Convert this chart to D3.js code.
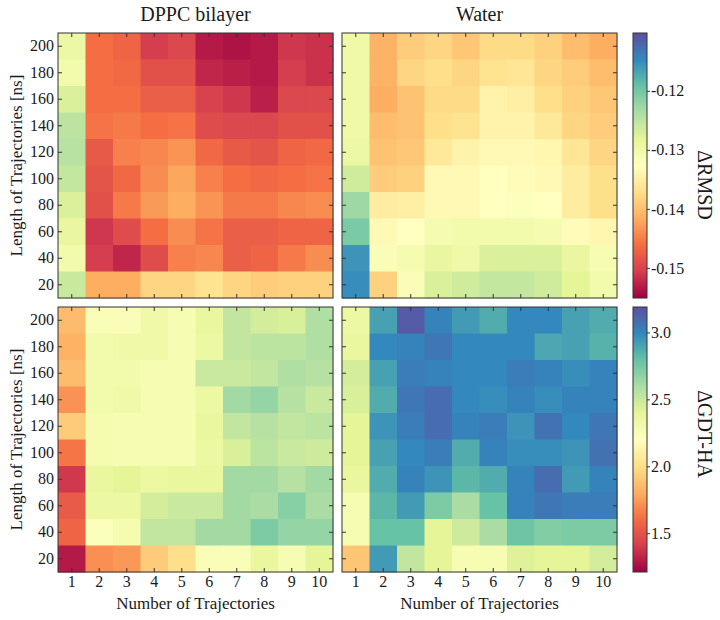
<!DOCTYPE html>
<html><head><meta charset="utf-8">
<script src="https://cdn.jsdelivr.net/npm/d3@7"></script>
</head>
<body style="margin:0"><svg id="c" width="720" height="620"></svg>
<script>
const nTraj = [1,2,3,4,5,6,7,8,9,10];
const lenTraj = [200,180,160,140,120,100,80,60,40,20];
const titles = ["DPPC bilayer","Water"];
const cbLabels = ["\u0394RMSD","\u0394GDT-HA"];
const rmsdTicks = [-0.15,-0.14,-0.13,-0.12];
const gdtTicks = [1.5,2.0,2.5,3.0];
const rmsdRange = [-0.1551,-0.1102];
const gdtRange = [1.21,3.19];

// rows ordered 200 -> 20, columns 1 -> 10
const dppcRmsd = [
 [-0.1295,-0.1461,-0.1470,-0.1506,-0.1497,-0.1533,-0.1538,-0.1533,-0.1511,-0.1515],
 [-0.1304,-0.1461,-0.1466,-0.1488,-0.1488,-0.1524,-0.1529,-0.1533,-0.1506,-0.1515],
 [-0.1273,-0.1461,-0.1461,-0.1475,-0.1475,-0.1502,-0.1511,-0.1529,-0.1497,-0.1497],
 [-0.1250,-0.1457,-0.1452,-0.1461,-0.1457,-0.1493,-0.1497,-0.1497,-0.1488,-0.1488],
 [-0.1246,-0.1479,-0.1448,-0.1443,-0.1434,-0.1466,-0.1479,-0.1484,-0.1470,-0.1466],
 [-0.1255,-0.1484,-0.1466,-0.1439,-0.1421,-0.1448,-0.1461,-0.1466,-0.1461,-0.1457],
 [-0.1273,-0.1488,-0.1452,-0.1430,-0.1416,-0.1434,-0.1452,-0.1452,-0.1443,-0.1439],
 [-0.1291,-0.1511,-0.1493,-0.1461,-0.1439,-0.1457,-0.1475,-0.1475,-0.1470,-0.1470],
 [-0.1304,-0.1506,-0.1524,-0.1493,-0.1448,-0.1443,-0.1475,-0.1470,-0.1452,-0.1439],
 [-0.1259,-0.1416,-0.1416,-0.1380,-0.1380,-0.1367,-0.1380,-0.1389,-0.1385,-0.1385]
];
const waterRmsd = [
 [-0.1300,-0.1412,-0.1389,-0.1380,-0.1394,-0.1376,-0.1376,-0.1385,-0.1403,-0.1416],
 [-0.1300,-0.1412,-0.1380,-0.1371,-0.1380,-0.1367,-0.1362,-0.1380,-0.1389,-0.1403],
 [-0.1300,-0.1416,-0.1398,-0.1376,-0.1376,-0.1344,-0.1349,-0.1371,-0.1385,-0.1394],
 [-0.1300,-0.1403,-0.1398,-0.1371,-0.1367,-0.1344,-0.1344,-0.1358,-0.1380,-0.1389],
 [-0.1295,-0.1398,-0.1394,-0.1358,-0.1344,-0.1335,-0.1335,-0.1340,-0.1362,-0.1380],
 [-0.1264,-0.1389,-0.1385,-0.1335,-0.1335,-0.1326,-0.1331,-0.1335,-0.1353,-0.1371],
 [-0.1228,-0.1353,-0.1349,-0.1335,-0.1335,-0.1326,-0.1322,-0.1326,-0.1353,-0.1371],
 [-0.1205,-0.1335,-0.1326,-0.1309,-0.1304,-0.1304,-0.1304,-0.1309,-0.1331,-0.1340],
 [-0.1156,-0.1318,-0.1309,-0.1291,-0.1300,-0.1273,-0.1273,-0.1273,-0.1291,-0.1313],
 [-0.1151,-0.1385,-0.1318,-0.1273,-0.1264,-0.1255,-0.1255,-0.1264,-0.1282,-0.1304]
];
const dppcGdt = [
 [1.86,2.24,2.24,2.32,2.26,2.36,2.52,2.46,2.44,2.58],
 [1.82,2.30,2.32,2.32,2.26,2.34,2.52,2.54,2.54,2.58],
 [1.86,2.30,2.30,2.26,2.26,2.50,2.50,2.52,2.58,2.56],
 [1.72,2.30,2.32,2.26,2.26,2.34,2.62,2.66,2.56,2.50],
 [1.92,2.28,2.26,2.26,2.26,2.36,2.52,2.56,2.52,2.54],
 [1.63,2.28,2.26,2.26,2.26,2.34,2.44,2.54,2.50,2.48],
 [1.39,2.36,2.40,2.34,2.36,2.36,2.62,2.62,2.56,2.62],
 [1.53,2.34,2.34,2.46,2.50,2.50,2.62,2.60,2.70,2.60],
 [1.57,2.22,2.28,2.52,2.52,2.62,2.62,2.73,2.66,2.66],
 [1.29,1.71,1.74,1.92,2.00,2.24,2.24,2.36,2.26,2.40]
];
const waterGdt = [
 [2.34,2.91,3.15,3.01,2.93,2.87,2.99,2.99,2.91,2.87],
 [2.36,2.99,3.01,3.05,2.99,2.99,2.99,2.89,2.91,2.85],
 [2.46,2.91,3.03,3.01,2.99,2.99,3.03,3.01,2.97,3.01],
 [2.44,2.87,3.05,3.09,2.99,2.97,3.01,2.97,3.01,3.01],
 [2.40,2.95,3.03,3.09,3.01,3.03,2.95,3.07,2.99,3.05],
 [2.40,2.91,2.99,3.03,2.87,3.01,2.97,2.97,2.95,3.07],
 [2.36,2.87,3.01,2.95,2.83,2.87,3.01,3.09,2.93,3.01],
 [2.26,2.83,2.93,2.73,2.60,2.79,3.01,3.05,3.03,3.03],
 [2.26,2.79,2.79,2.40,2.48,2.60,2.77,2.71,2.73,2.73],
 [1.90,2.93,2.52,2.40,2.26,2.26,2.42,2.40,2.40,2.46]
];

const spectral = ["#9e0142","#d53e4f","#f46d43","#fdae61","#fee08b","#ffffbf","#e6f598","#abdda4","#66c2a5","#3288bd","#5e4fa2"];
const FONT = "Times New Roman";

const svg = d3.select("#c");
const colsX = [[58,333],[342,617]];
const rowsY = [[33,298],[307,572]];
const cbX = [633,647];
const frame = "#333";
const txt = "#1a1a1a";

function makeColor(range){
  const stops = spectral.map((_,i)=> range[0] + (range[1]-range[0])*i/(spectral.length-1));
  return d3.scaleLinear().domain(stops).range(spectral).interpolate(d3.interpolateRgb).clamp(true);
}

const rowsData = [
  {grids:[dppcRmsd,waterRmsd], range:rmsdRange, ticks:rmsdTicks, fmt:d=>d.toFixed(2), label:cbLabels[0], labelY:185},
  {grids:[dppcGdt,waterGdt], range:gdtRange, ticks:gdtTicks, fmt:d=>d.toFixed(1), label:cbLabels[1], labelY:434}
];

function styleAxis(a){
  a.attr("font-family",null).attr("font-size",null);
  a.select(".domain").remove();
  a.selectAll(".tick line").attr("stroke",frame);
  a.selectAll(".tick text").attr("fill",txt).style("font-family",`"${FONT}"`).attr("font-size",16);
}
function addText(sel){
  return sel.append("text").style("font-family",`"${FONT}"`).attr("fill",txt);
}

rowsData.forEach((rd,ri)=>{
  const color = makeColor(rd.range);
  const [y0,y1] = rowsY[ri];
  const y = d3.scaleBand().domain(lenTraj).range([y0,y1]);
  rd.grids.forEach((grid,ci)=>{
    const [x0,x1] = colsX[ci];
    const x = d3.scaleBand().domain(nTraj).range([x0,x1]);
    const g = svg.append("g");
    const cells = [];
    grid.forEach((row,r)=>row.forEach((v,c)=>cells.push({r:lenTraj[r],c:nTraj[c],v})));
    g.selectAll("rect.cell").data(cells).join("rect")
      .attr("x",d=>x(d.c)).attr("y",d=>y(d.r))
      .attr("width",x.bandwidth()+0.5).attr("height",y.bandwidth()+0.5)
      .attr("fill",d=>color(d.v));
    const axL = svg.append("g").attr("transform",`translate(${x0},0)`)
      .call(d3.axisLeft(y).tickSizeInner(-4).tickSizeOuter(0).tickPadding(4)
        .tickFormat(ci===0? d=>d : ()=>""));
    const axR = svg.append("g").attr("transform",`translate(${x1},0)`)
      .call(d3.axisRight(y).tickSizeInner(-4).tickSizeOuter(0).tickFormat(()=>""));
    const axT = svg.append("g").attr("transform",`translate(0,${y0})`)
      .call(d3.axisTop(x).tickSizeInner(-4).tickSizeOuter(0).tickFormat(()=>""));
    const axB = svg.append("g").attr("transform",`translate(0,${y1})`)
      .call(d3.axisBottom(x).tickSizeInner(-4).tickSizeOuter(0).tickPadding(4)
        .tickFormat(ri===1? d=>d : ()=>""));
    [axL,axR,axT,axB].forEach(styleAxis);
    g.append("rect").attr("x",x0).attr("y",y0).attr("width",x1-x0).attr("height",y1-y0)
      .attr("fill","none").attr("stroke",frame).attr("stroke-width",1);
    if(ci===0){
      addText(svg).attr("transform",`translate(16,${(y0+y1)/2}) rotate(-90)`)
        .attr("text-anchor","middle").attr("dominant-baseline","central")
        .attr("font-size",17).text("Length of Trajectories [ns]");
    }
    if(ri===0){
      addText(svg).attr("x",(x0+x1)/2).attr("y",21).attr("text-anchor","middle")
        .attr("font-size",20).text(titles[ci]);
    } else {
      addText(svg).attr("x",(x0+x1)/2).attr("y",609).attr("text-anchor","middle")
        .attr("font-size",17).text("Number of Trajectories");
    }
  });
  const defs = svg.append("defs");
  const gid = "grad"+ri;
  const grad = defs.append("linearGradient").attr("id",gid).attr("x1",0).attr("y1",1).attr("x2",0).attr("y2",0);
  spectral.forEach((c,i)=>grad.append("stop").attr("offset",i/(spectral.length-1)).attr("stop-color",c));
  svg.append("rect").attr("x",cbX[0]).attr("y",y0).attr("width",cbX[1]-cbX[0]).attr("height",y1-y0)
    .attr("fill",`url(#${gid})`).attr("stroke",frame).attr("stroke-width",1);
  const cs = d3.scaleLinear().domain(rd.range).range([y1,y0]);
  const cax = svg.append("g").attr("transform",`translate(${cbX[1]},0)`)
    .call(d3.axisRight(cs).tickValues(rd.ticks).tickFormat(rd.fmt).tickSizeInner(3).tickSizeOuter(0).tickPadding(1));
  styleAxis(cax);
  addText(svg).attr("transform",`translate(705,${rd.labelY}) rotate(90)`)
    .attr("text-anchor","middle").attr("dominant-baseline","central")
    .attr("font-size",20).text(rd.label);
});
</script></body></html>
